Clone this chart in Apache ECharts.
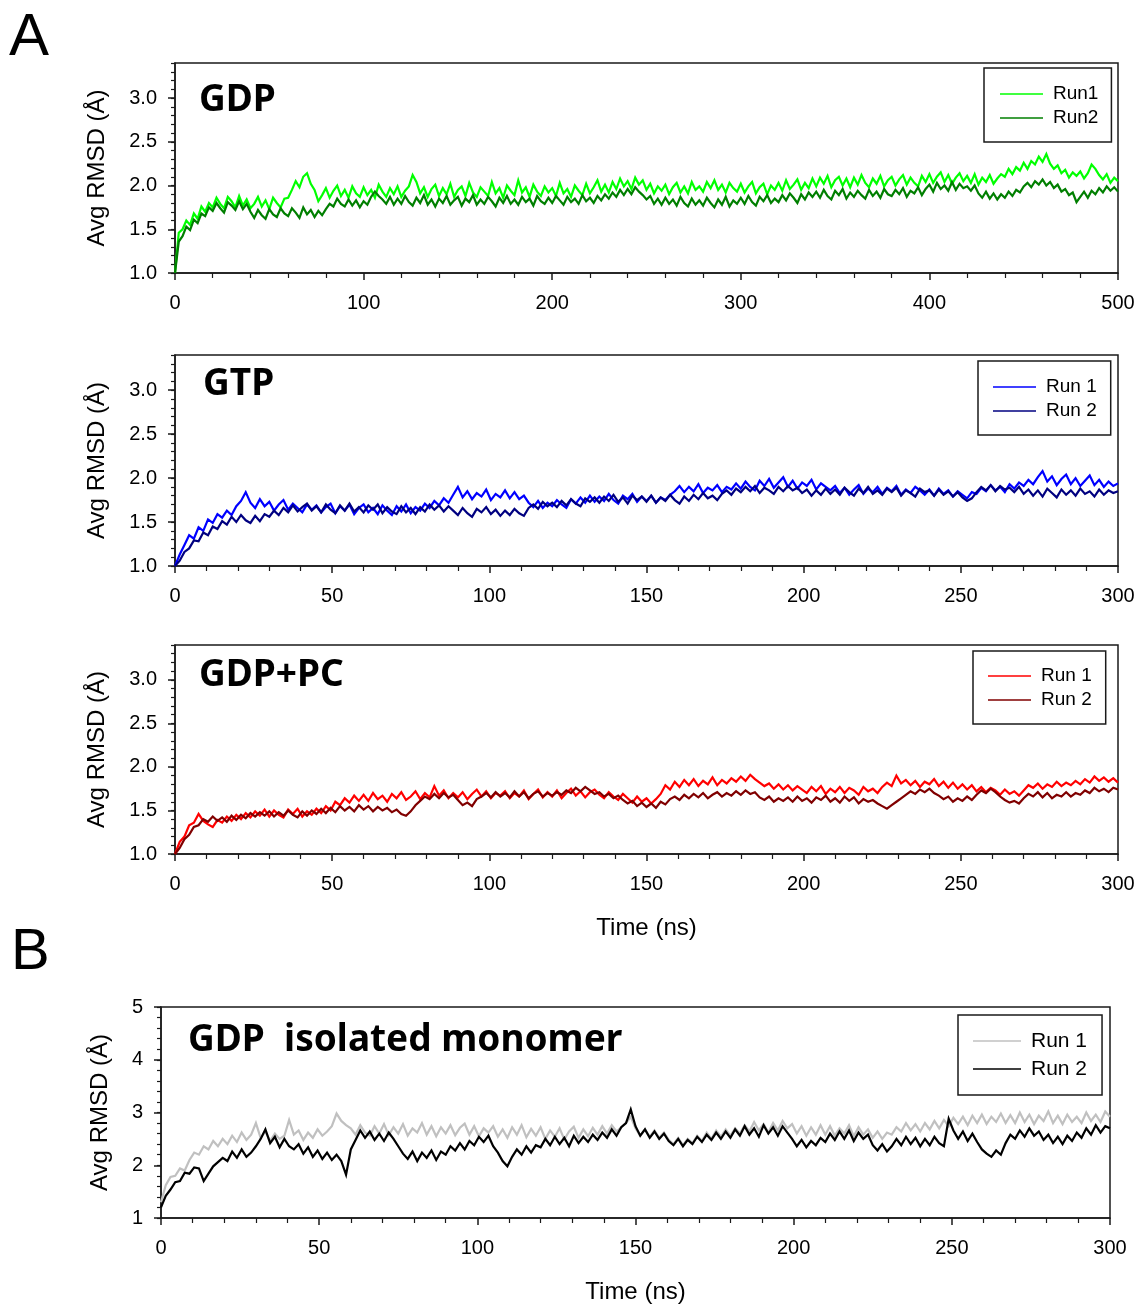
<!DOCTYPE html>
<html>
<head>
<meta charset="utf-8">
<script src="https://cdn.jsdelivr.net/npm/echarts@6/dist/echarts.min.js"></script>
<style>
html, body { margin: 0; padding: 0; background: #fff; }
#main { width: 1138px; height: 1305px; }
</style>
</head>
<body>
<div id="main"></div>
<script>
// time step (ns) between samples
var gdpStep = 2;
var step300 = 1.5;

// A - GDP (0..500 ns)
var gdpRun1 = [
  1.00, 1.46, 1.50, 1.60, 1.55, 1.68, 1.62, 1.76, 1.70, 1.80,
  1.75, 1.86, 1.79, 1.74, 1.87, 1.82, 1.75, 1.88, 1.77, 1.84,
  1.74, 1.79, 1.87, 1.76, 1.83, 1.73, 1.86, 1.80, 1.75, 1.85,
  1.86, 1.95, 2.05, 1.98, 2.10, 2.14, 2.02, 1.95, 1.82, 1.89,
  1.97, 1.86, 1.94, 2.00, 1.88, 1.95, 1.86, 1.99, 1.91, 1.87,
  1.98, 1.89, 1.95, 1.86, 2.01, 1.93, 1.87, 1.97, 1.90, 1.99,
  1.87, 1.94, 1.99, 2.12, 2.04, 1.91, 1.98, 1.87, 1.96, 2.01,
  1.88, 1.97, 1.90, 2.02, 1.87, 1.95, 1.99, 1.88, 2.03, 1.92,
  1.87, 1.98, 1.93, 1.88, 2.04, 1.91, 1.97, 1.86, 2.00, 1.94,
  1.89, 2.06, 1.92, 1.98, 1.87, 2.01, 1.93, 1.88, 1.99, 1.92,
  1.97, 1.88, 2.03, 1.91, 1.96, 1.87, 2.00, 1.94, 1.89, 2.02,
  1.91, 1.98, 2.06, 1.93, 2.01, 1.92, 2.04, 1.96, 2.08, 1.99,
  2.05, 1.96, 2.09, 2.01, 2.06, 1.95, 2.02, 1.91, 1.99, 1.94,
  2.01, 1.90, 1.98, 2.03, 1.92, 1.99, 1.91, 2.04, 1.95, 1.99,
  1.93, 2.04, 1.97, 2.06, 1.95, 2.01, 1.92, 2.03, 1.97, 1.93,
  2.02, 1.92, 1.99, 2.04, 1.91, 1.98, 2.02, 1.90, 2.00, 1.95,
  2.03, 1.94, 2.06, 1.96, 2.01, 2.07, 1.95, 2.03, 1.97, 2.08,
  1.99, 2.09, 2.02, 2.11, 1.98, 2.06, 2.10, 2.00, 2.08, 1.98,
  2.09, 2.01, 2.12, 2.03, 1.98, 2.08, 2.02, 2.11, 1.99, 2.06,
  2.10, 2.00, 2.07, 2.12, 2.01, 2.09, 2.03, 1.99, 2.11, 2.04,
  2.13, 2.03, 2.10, 2.15, 2.04, 2.12, 2.02, 2.09, 2.14, 2.05,
  2.11, 2.03, 2.13, 2.01, 2.09, 2.04, 2.12, 2.02, 2.08, 2.13,
  2.10, 2.19, 2.13, 2.21, 2.17, 2.26, 2.19, 2.28, 2.24, 2.33,
  2.27, 2.36, 2.25, 2.19, 2.23, 2.14, 2.18, 2.09, 2.15, 2.11,
  2.16, 2.08, 2.14, 2.24, 2.19, 2.12, 2.07, 2.13, 2.03, 2.09,
  2.05
];
var gdpRun2 = [
  1.00, 1.36, 1.42, 1.53, 1.49, 1.61, 1.57, 1.68, 1.65, 1.75,
  1.71, 1.80, 1.74, 1.69, 1.81, 1.77, 1.72, 1.82, 1.73, 1.79,
  1.70, 1.63, 1.72, 1.66, 1.62, 1.73, 1.67, 1.64, 1.74, 1.68,
  1.65, 1.74, 1.69, 1.63, 1.75, 1.67, 1.72, 1.64, 1.71, 1.66,
  1.73, 1.79, 1.76, 1.85, 1.79, 1.76, 1.84, 1.77, 1.83, 1.75,
  1.82, 1.78, 1.87, 1.93, 1.88, 1.84, 1.79, 1.87, 1.78, 1.85,
  1.79, 1.88, 1.81, 1.77, 1.86, 1.80, 1.89, 1.78, 1.84, 1.76,
  1.85, 1.80, 1.88, 1.78, 1.83, 1.87, 1.77, 1.85, 1.81, 1.89,
  1.78, 1.84, 1.79, 1.87, 1.82, 1.76, 1.86, 1.80, 1.88, 1.79,
  1.84, 1.78, 1.87, 1.81, 1.85, 1.77, 1.88, 1.82, 1.79, 1.86,
  1.80, 1.88, 1.83, 1.78, 1.87, 1.81, 1.85, 1.79, 1.89, 1.82,
  1.86, 1.80, 1.88, 1.83, 1.90, 1.85, 1.92, 1.87, 1.95, 1.89,
  1.96, 1.90, 1.98, 1.93, 1.89, 1.84, 1.88, 1.79, 1.85, 1.78,
  1.86, 1.79, 1.84, 1.77, 1.87, 1.80, 1.76, 1.85, 1.78, 1.83,
  1.77, 1.86, 1.80, 1.75, 1.84, 1.78, 1.87, 1.76, 1.83, 1.79,
  1.86, 1.79, 1.88, 1.81, 1.77, 1.87, 1.82, 1.89, 1.80, 1.85,
  1.81, 1.89, 1.83, 1.91, 1.86, 1.80, 1.90, 1.84, 1.92, 1.87,
  1.93, 1.86, 1.95, 1.88, 1.84, 1.94, 1.89, 1.96, 1.85, 1.92,
  1.87, 1.94, 1.89, 1.85, 1.95, 1.88, 1.93, 1.86, 1.96, 1.90,
  1.88, 1.95, 1.90, 1.97, 1.87, 1.94, 1.91, 1.98, 1.89, 1.96,
  2.01, 1.93, 2.03, 1.96, 2.00, 1.94, 2.04, 1.95, 2.02, 1.97,
  1.99, 1.94, 2.00, 1.91, 1.86, 1.93, 1.85, 1.91, 1.84, 1.90,
  1.86, 1.93, 1.88, 1.95, 1.92, 1.99, 2.03, 1.98, 2.05, 2.01,
  2.07, 2.00, 2.04, 1.97, 2.01, 1.93, 1.96, 1.89, 1.92, 1.81,
  1.87, 1.93, 1.86, 1.94, 1.90, 1.97, 1.92, 1.99, 1.94, 1.98,
  1.93
];

// A - GTP (0..300 ns)
var gtpRun1 = [
  1.00, 1.13, 1.24, 1.35, 1.31, 1.44, 1.40, 1.53, 1.49, 1.59,
  1.55, 1.63, 1.58, 1.68, 1.74, 1.84, 1.72, 1.66, 1.76, 1.68,
  1.73, 1.63, 1.70, 1.75, 1.64, 1.71, 1.66, 1.61, 1.70, 1.64,
  1.69, 1.61, 1.67, 1.71, 1.60, 1.68, 1.63, 1.70, 1.59, 1.66,
  1.70, 1.61, 1.66, 1.59, 1.69, 1.63, 1.58, 1.68, 1.62, 1.70,
  1.60, 1.67, 1.63, 1.71, 1.66, 1.74, 1.69, 1.77, 1.72, 1.81,
  1.90, 1.78, 1.85, 1.76, 1.83, 1.79, 1.87, 1.75, 1.82, 1.78,
  1.86, 1.77, 1.84, 1.76, 1.80, 1.72, 1.67, 1.74, 1.66, 1.72,
  1.68, 1.75, 1.70, 1.66, 1.76, 1.71, 1.78, 1.72, 1.80, 1.73,
  1.79, 1.74, 1.82, 1.75, 1.71, 1.80, 1.76, 1.82, 1.73, 1.79,
  1.74, 1.80, 1.72, 1.78, 1.75, 1.81, 1.85, 1.91, 1.84, 1.90,
  1.85, 1.93, 1.83, 1.89, 1.86, 1.92, 1.84, 1.90, 1.87, 1.94,
  1.88, 1.96, 1.90, 1.86, 1.97, 1.91, 1.99, 1.89, 1.95, 2.01,
  1.90, 1.97, 1.88, 1.95, 1.91, 1.98, 1.87, 1.94, 1.90, 1.86,
  1.91, 1.83, 1.89, 1.81, 1.87, 1.92, 1.82, 1.88, 1.84, 1.90,
  1.82, 1.89, 1.85, 1.91, 1.81, 1.87, 1.83, 1.90, 1.86, 1.81,
  1.87, 1.80, 1.88, 1.82, 1.86, 1.79, 1.85, 1.81, 1.77, 1.84,
  1.82, 1.89, 1.85, 1.92, 1.86, 1.90, 1.84, 1.93, 1.88, 1.95,
  1.91, 1.98, 1.93, 2.01, 2.08, 1.96, 2.02, 1.92, 1.99, 2.04,
  1.93, 2.00, 1.91, 1.97, 2.03, 1.92, 1.98, 1.90, 1.96, 1.91,
  1.94
];
var gtpRun2 = [
  1.00, 1.06, 1.16, 1.20, 1.29, 1.28, 1.38, 1.35, 1.45, 1.42,
  1.51, 1.47, 1.56, 1.50, 1.58, 1.52, 1.49, 1.57, 1.51, 1.59,
  1.56, 1.63, 1.58, 1.66, 1.61, 1.69, 1.62, 1.67, 1.71, 1.63,
  1.68, 1.61, 1.70, 1.64, 1.60, 1.69, 1.63, 1.71, 1.62, 1.67,
  1.61, 1.69, 1.64, 1.70, 1.60, 1.67, 1.62, 1.59, 1.68, 1.61,
  1.66, 1.59, 1.67, 1.62, 1.70, 1.64, 1.69, 1.62, 1.68, 1.63,
  1.58, 1.66, 1.60, 1.56, 1.65, 1.61, 1.67, 1.59, 1.64, 1.57,
  1.63, 1.58, 1.65, 1.60, 1.57, 1.66, 1.70, 1.65, 1.73, 1.68,
  1.72, 1.67, 1.74, 1.69, 1.76, 1.71, 1.68, 1.77, 1.73, 1.78,
  1.72, 1.79, 1.74, 1.81, 1.73, 1.78, 1.71, 1.80, 1.75, 1.79,
  1.73, 1.80, 1.72, 1.78, 1.74, 1.81, 1.75, 1.71, 1.79, 1.74,
  1.81, 1.76, 1.83, 1.77, 1.80, 1.75, 1.82, 1.86, 1.81, 1.88,
  1.84, 1.90, 1.85, 1.91, 1.83, 1.89, 1.86, 1.82, 1.90, 1.85,
  1.91, 1.86, 1.89, 1.83, 1.87, 1.80, 1.86, 1.81, 1.88, 1.82,
  1.87, 1.81, 1.89, 1.84, 1.80, 1.88, 1.83, 1.90, 1.82, 1.86,
  1.81, 1.88, 1.84, 1.89, 1.80, 1.86, 1.83, 1.79, 1.88, 1.84,
  1.86, 1.80, 1.87, 1.81, 1.85, 1.79, 1.84, 1.78, 1.74, 1.77,
  1.84, 1.90, 1.86, 1.92, 1.85, 1.91, 1.87, 1.89, 1.84, 1.90,
  1.82, 1.87, 1.80, 1.86, 1.79, 1.88, 1.83, 1.78, 1.87, 1.81,
  1.86, 1.80, 1.88, 1.82, 1.85, 1.79, 1.87, 1.81, 1.86, 1.83,
  1.85
];

// A - GDP+PC (0..300 ns)
var pcRun1 = [
  1.00, 1.14, 1.20, 1.33, 1.36, 1.46, 1.38, 1.34, 1.31, 1.39,
  1.36, 1.43, 1.38, 1.45, 1.40, 1.47, 1.42, 1.49, 1.44, 1.51,
  1.43, 1.50, 1.45, 1.42, 1.51, 1.46, 1.52, 1.43, 1.49, 1.45,
  1.52, 1.47, 1.55, 1.50, 1.60, 1.56, 1.64, 1.59, 1.67, 1.61,
  1.68, 1.61, 1.70, 1.63, 1.67, 1.60, 1.69, 1.64, 1.71, 1.62,
  1.66, 1.72, 1.63, 1.70, 1.65, 1.78, 1.67, 1.73, 1.64, 1.70,
  1.65, 1.71, 1.63, 1.69, 1.74, 1.66, 1.72, 1.64, 1.70, 1.67,
  1.72, 1.64, 1.70, 1.66, 1.73, 1.63, 1.69, 1.74, 1.65, 1.71,
  1.66, 1.73, 1.64, 1.70, 1.75, 1.67, 1.72, 1.65, 1.71, 1.74,
  1.68, 1.64, 1.71, 1.66, 1.62, 1.69, 1.64, 1.59, 1.66, 1.60,
  1.64, 1.58, 1.63, 1.69, 1.79, 1.74, 1.83, 1.77, 1.85, 1.79,
  1.86, 1.78, 1.84, 1.80, 1.88, 1.79, 1.85, 1.81, 1.87, 1.83,
  1.89, 1.84, 1.91, 1.86, 1.82, 1.78, 1.81, 1.75, 1.80, 1.74,
  1.79, 1.73, 1.78, 1.74, 1.70, 1.77, 1.72, 1.78, 1.69, 1.75,
  1.71, 1.77, 1.70, 1.76, 1.73, 1.68, 1.77, 1.72, 1.75, 1.70,
  1.77, 1.82, 1.78, 1.90, 1.81, 1.85, 1.79, 1.84, 1.77, 1.83,
  1.80, 1.86, 1.78, 1.83, 1.76, 1.82, 1.75, 1.80, 1.74, 1.79,
  1.72, 1.77, 1.71, 1.76, 1.73, 1.68, 1.74, 1.69, 1.72, 1.67,
  1.73, 1.79, 1.76, 1.81, 1.75, 1.80, 1.77, 1.83, 1.78, 1.82,
  1.79, 1.84, 1.80, 1.86, 1.82, 1.89, 1.84, 1.88, 1.83, 1.87,
  1.82
];
var pcRun2 = [
  1.00, 1.07, 1.17, 1.22, 1.31, 1.33, 1.40, 1.37, 1.43, 1.38,
  1.42, 1.37, 1.44, 1.39, 1.45, 1.41, 1.47, 1.43, 1.48, 1.44,
  1.49, 1.43, 1.48, 1.44, 1.50, 1.45, 1.42, 1.49, 1.44, 1.50,
  1.46, 1.52, 1.47, 1.53, 1.48, 1.55, 1.50, 1.54, 1.49, 1.56,
  1.51, 1.55, 1.49, 1.54, 1.50, 1.53, 1.48, 1.51, 1.46, 1.44,
  1.49, 1.56, 1.61, 1.66, 1.63, 1.69, 1.64, 1.70, 1.65, 1.68,
  1.62, 1.56, 1.59, 1.55, 1.63, 1.66, 1.70, 1.65, 1.71, 1.66,
  1.70, 1.65, 1.72, 1.66, 1.71, 1.64, 1.69, 1.72, 1.66, 1.70,
  1.67, 1.71, 1.68, 1.73, 1.70, 1.76, 1.72, 1.77, 1.73, 1.69,
  1.71, 1.66, 1.69, 1.64, 1.67, 1.62, 1.58, 1.61, 1.55, 1.59,
  1.54, 1.58, 1.53, 1.60, 1.57, 1.63, 1.66, 1.62, 1.68, 1.64,
  1.69, 1.65, 1.70, 1.64, 1.68, 1.71, 1.66, 1.70, 1.67, 1.72,
  1.68, 1.73, 1.69, 1.71, 1.65, 1.62, 1.66, 1.60, 1.64, 1.61,
  1.65, 1.60, 1.66, 1.61, 1.64, 1.59, 1.65, 1.62, 1.67, 1.60,
  1.64, 1.59, 1.66, 1.61, 1.65, 1.58, 1.63, 1.60, 1.62, 1.58,
  1.55, 1.52, 1.56, 1.60, 1.64, 1.68, 1.72, 1.69, 1.74, 1.71,
  1.75, 1.70, 1.67, 1.63, 1.66, 1.60, 1.64, 1.61, 1.66, 1.62,
  1.68, 1.73, 1.70, 1.75, 1.71, 1.66, 1.62, 1.59, 1.61, 1.58,
  1.64, 1.69, 1.66, 1.71, 1.65, 1.70, 1.64, 1.68, 1.66, 1.71,
  1.66, 1.70, 1.68, 1.73, 1.70, 1.76, 1.72, 1.75, 1.71, 1.76,
  1.74
];

// B - GDP isolated monomer (0..300 ns)
var monoRun1 = [
  1.30, 1.62, 1.78, 1.80, 1.94, 1.90, 2.10, 2.24, 2.20, 2.36,
  2.30, 2.46, 2.36, 2.50, 2.40, 2.56, 2.44, 2.62, 2.48, 2.58,
  2.80, 2.52, 2.64, 2.46, 2.60, 2.50, 2.56, 2.86, 2.58, 2.66,
  2.48, 2.62, 2.52, 2.68, 2.56, 2.64, 2.74, 2.98, 2.84, 2.76,
  2.70, 2.58, 2.76, 2.62, 2.56, 2.74, 2.60, 2.78, 2.57, 2.72,
  2.60, 2.78, 2.56, 2.70, 2.62, 2.80, 2.58, 2.74, 2.55, 2.72,
  2.60, 2.76, 2.57, 2.71, 2.79, 2.58, 2.74, 2.55, 2.70, 2.62,
  2.74, 2.54, 2.68, 2.52, 2.72, 2.58, 2.76, 2.53, 2.69, 2.56,
  2.72, 2.50, 2.66, 2.54, 2.70, 2.49, 2.64, 2.73, 2.52, 2.68,
  2.55, 2.71, 2.58, 2.74, 2.60, 2.76, 2.64, 2.72, 2.80, 2.92,
  2.70, 2.56, 2.68, 2.54, 2.66, 2.52, 2.62, 2.48, 2.40, 2.52,
  2.38, 2.50, 2.42, 2.56, 2.46, 2.62, 2.50, 2.66, 2.54, 2.68,
  2.56, 2.70, 2.60, 2.76, 2.64, 2.82, 2.66, 2.78, 2.62, 2.80,
  2.66, 2.84, 2.70, 2.78, 2.60, 2.74, 2.56, 2.72, 2.58, 2.76,
  2.58, 2.74, 2.56, 2.70, 2.60, 2.76, 2.55, 2.72, 2.58, 2.68,
  2.52, 2.64, 2.50, 2.62, 2.58, 2.72, 2.64, 2.80, 2.66, 2.78,
  2.64, 2.80, 2.68, 2.84, 2.70, 2.86, 2.74, 2.90, 2.78, 2.92,
  2.76, 2.94, 2.80, 2.96, 2.78, 2.92, 2.82, 2.98, 2.80, 2.95,
  2.80, 3.00, 2.82, 2.96, 2.78, 2.94, 2.84, 3.02, 2.80, 2.94,
  2.78, 2.96, 2.82, 2.92, 2.80, 3.00, 2.84, 2.96, 2.82, 3.02,
  2.92
];
var monoRun2 = [
  1.20, 1.42, 1.54, 1.68, 1.70, 1.86, 1.84, 1.96, 1.94, 1.70,
  1.84, 1.98, 2.06, 2.14, 2.08, 2.26, 2.14, 2.30, 2.16, 2.24,
  2.36, 2.50, 2.68, 2.42, 2.54, 2.34, 2.50, 2.36, 2.30, 2.40,
  2.22, 2.34, 2.16, 2.28, 2.12, 2.24, 2.10, 2.20, 2.08, 1.82,
  2.30, 2.48, 2.66, 2.52, 2.64, 2.48, 2.60, 2.46, 2.62, 2.50,
  2.36, 2.22, 2.12, 2.26, 2.08, 2.24, 2.14, 2.28, 2.10, 2.26,
  2.20, 2.36, 2.28, 2.42, 2.30, 2.46, 2.38, 2.54, 2.44, 2.56,
  2.36, 2.24, 2.08, 1.98, 2.16, 2.30, 2.20, 2.36, 2.24, 2.38,
  2.34, 2.50, 2.38, 2.54, 2.40, 2.52, 2.36, 2.56, 2.42, 2.54,
  2.44, 2.58, 2.48, 2.62, 2.52, 2.68, 2.56, 2.72, 2.80, 3.06,
  2.74, 2.56, 2.68, 2.52, 2.64, 2.50, 2.60, 2.46, 2.38, 2.50,
  2.36, 2.48, 2.40, 2.54, 2.44, 2.58, 2.48, 2.62, 2.50, 2.64,
  2.52, 2.68, 2.56, 2.74, 2.58, 2.70, 2.54, 2.76, 2.60, 2.72,
  2.56, 2.74, 2.62, 2.50, 2.36, 2.48, 2.34, 2.46, 2.38, 2.52,
  2.44, 2.60, 2.48, 2.64, 2.50, 2.66, 2.46, 2.62, 2.50, 2.58,
  2.38, 2.28, 2.40, 2.26, 2.36, 2.50, 2.38, 2.54, 2.40, 2.52,
  2.36, 2.50, 2.38, 2.54, 2.42, 2.36, 2.88, 2.66, 2.50, 2.64,
  2.46, 2.60, 2.44, 2.30, 2.22, 2.16, 2.28, 2.20, 2.42, 2.58,
  2.50, 2.66, 2.54, 2.70, 2.56, 2.64, 2.48, 2.58, 2.42, 2.54,
  2.40, 2.56, 2.46, 2.62, 2.52, 2.70, 2.58, 2.76, 2.62, 2.74,
  2.70
];

var labelFont = 'Liberation Sans, Arial, sans-serif';
var titleFont = 'Noto Sans, sans-serif';

var panels = [
  {title: 'GDP', grid: {left: 175, top: 63, width: 943, height: 210}, xMax: 500, xInt: 100,
   yMin: 1, yMax: 3.4, yInt: 0.5, yMinor: 0.1, step: gdpStep,
   runs: [{name: 'Run1', data: gdpRun1, color: '#00ff00'}, {name: 'Run2', data: gdpRun2, color: '#007f00'}],
   legend: {left: 984, top: 68, padding: [16, 13, 14, 16], size: 19, lh: 20, gap: 4, w: 43},
   titlePos: [199, 100], nameGap: 66, timeName: false},
  {title: 'GTP', grid: {left: 175, top: 355, width: 943, height: 211}, xMax: 300, xInt: 50,
   yMin: 1, yMax: 3.4, yInt: 0.5, yMinor: 0.1, step: step300,
   runs: [{name: 'Run 1', data: gtpRun1, color: '#0000ff'}, {name: 'Run 2', data: gtpRun2, color: '#000080'}],
   legend: {left: 978, top: 361, padding: [16, 14, 14, 15], size: 19, lh: 20, gap: 4, w: 43},
   titlePos: [203, 384], nameGap: 66, timeName: false},
  {title: 'GDP+PC', grid: {left: 175, top: 645, width: 943, height: 209}, xMax: 300, xInt: 50,
   yMin: 1, yMax: 3.4, yInt: 0.5, yMinor: 0.1, step: step300,
   runs: [{name: 'Run 1', data: pcRun1, color: '#ff0000'}, {name: 'Run 2', data: pcRun2, color: '#800000'}],
   legend: {left: 973, top: 651, padding: [15, 14, 14, 15], size: 19, lh: 20, gap: 4, w: 43},
   titlePos: [199, 675], nameGap: 66, timeName: true},
  {title: 'GDP  isolated monomer', grid: {left: 161, top: 1007, width: 949, height: 211}, xMax: 300, xInt: 50,
   yMin: 1, yMax: 5, yInt: 1, yMinor: 0.2, step: step300,
   runs: [{name: 'Run 1', data: monoRun1, color: '#c0c0c0'}, {name: 'Run 2', data: monoRun2, color: '#000000'}],
   legend: {left: 958, top: 1015, padding: [15, 15, 15, 15], size: 21, lh: 22, gap: 6, w: 48},
   titlePos: [188, 1040], nameGap: 49, timeName: true}
];

function pairs(vals, step) {
  return vals.map(function (v, i) { return [i * step, v]; });
}

var grids = [], xAxes = [], yAxes = [], series = [], legends = [], texts = [];

panels.forEach(function (p, k) {
  grids.push(Object.assign({show: true, borderColor: '#1a1a1a', borderWidth: 1.5, backgroundColor: 'transparent'}, p.grid));

  xAxes.push({
    gridIndex: k, type: 'value', min: 0, max: p.xMax, interval: p.xInt,
    name: p.timeName ? 'Time (ns)' : '', nameLocation: 'middle', nameGap: 62,
    nameTextStyle: {fontFamily: labelFont, fontSize: 24, color: '#000'},
    axisLine: {lineStyle: {color: '#1a1a1a', width: 1.5}},
    axisTick: {length: 7, lineStyle: {color: '#1a1a1a', width: 1.5}},
    minorTick: {show: true, splitNumber: 5, length: 5, lineStyle: {color: '#1a1a1a', width: 1.2}},
    splitLine: {show: false},
    axisLabel: {fontFamily: labelFont, fontSize: 20, color: '#000', margin: 20}
  });

  var yi = yAxes.length;
  yAxes.push({
    gridIndex: k, type: 'value', position: 'left', min: p.yMin, max: p.yMax, interval: p.yInt,
    name: 'Avg RMSD (Å)', nameLocation: 'middle', nameGap: p.nameGap, nameRotate: 90,
    nameTextStyle: {fontFamily: labelFont, fontSize: 24, color: '#000'},
    axisLine: {show: true, lineStyle: {color: '#1a1a1a', width: 1.5}},
    axisTick: {show: true, length: 7, lineStyle: {color: '#1a1a1a', width: 1.5}},
    splitLine: {show: false},
    axisLabel: {
      fontFamily: labelFont, fontSize: 20, color: '#000', margin: 18,
      showMaxLabel: p.yInt >= 1,
      formatter: function (v) { return p.yInt < 1 ? v.toFixed(1) : String(v); }
    }
  });
  // minor ticks on y
  yAxes.push({
    gridIndex: k, type: 'value', position: 'left', min: p.yMin, max: p.yMax, interval: p.yMinor,
    axisLine: {show: false}, axisLabel: {show: false}, splitLine: {show: false},
    axisTick: {show: true, length: 4, lineStyle: {color: '#1a1a1a', width: 1.2}}
  });

  p.runs.forEach(function (r, j) {
    series.push({
      type: 'line', name: k + '|' + r.name, xAxisIndex: k, yAxisIndex: yi,
      data: pairs(r.data, p.step), showSymbol: false, symbol: 'none',
      lineStyle: {color: r.color, width: 2.2, join: 'miter'}, itemStyle: {color: r.color},
      z: 2 + j, animation: false
    });
  });

  legends.push({
    orient: 'vertical', left: p.legend.left, top: p.legend.top, padding: p.legend.padding,
    itemGap: p.legend.gap, itemWidth: p.legend.w, itemHeight: 1.6, icon: 'rect', selectedMode: false,
    borderColor: '#1a1a1a', borderWidth: 1.5, backgroundColor: '#fff',
    textStyle: {fontFamily: labelFont, fontSize: p.legend.size, color: '#000', lineHeight: p.legend.lh, padding: [0, 0, 0, 5]},
    data: p.runs.map(function (r) { return k + '|' + r.name; }),
    formatter: function (n) { return n.split('|')[1]; }
  });

  texts.push({
    type: 'text', x: p.titlePos[0], y: p.titlePos[1],
    style: {text: p.title, font: 'bold 37px ' + titleFont, fill: '#000', verticalAlign: 'middle', align: 'left'}
  });
});

texts.push({type: 'text', x: 9, y: 38, style: {text: 'A', font: '60px ' + labelFont, fill: '#000', verticalAlign: 'middle'}});
texts.push({type: 'text', x: 11, y: 953, style: {text: 'B', font: '58px ' + labelFont, fill: '#000', verticalAlign: 'middle'}});

var myChart = echarts.init(document.getElementById('main'));
myChart.setOption({
  backgroundColor: '#fff',
  animation: false,
  grid: grids,
  xAxis: xAxes,
  yAxis: yAxes,
  legend: legends,
  series: series,
  graphic: texts
});
</script>
</body>
</html>
